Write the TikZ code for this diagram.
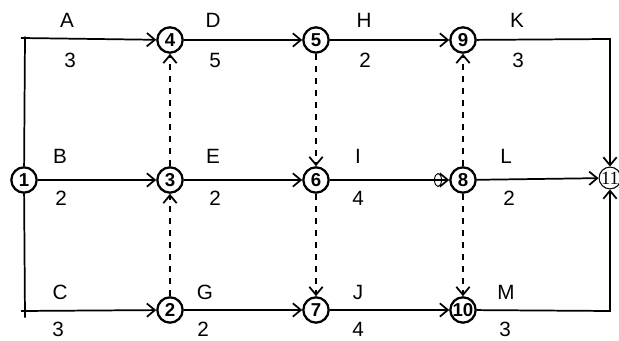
\documentclass[tikz,border=0pt]{standalone}
\usepackage{fontspec}
\setmainfont{Liberation Sans}
\newfontfamily\serifnum{Liberation Serif}
\usetikzlibrary{arrows.meta}
\tikzset{
  event/.style={circle,draw,fill=white,line width=1.7pt,minimum size=19pt,inner sep=0pt,
    font=\bfseries\fontsize{14}{14}\selectfont},
  endevent/.style={circle,draw,fill=white,line width=0.8pt,minimum size=16pt,inner sep=0pt,
    font=\serifnum\fontsize{14}{14}\selectfont},
  work/.style={line width=1.3pt,-{Straight Barb[length=6pt,width=10pt]}},
  dummy/.style={work,dash pattern=on 5pt off 4pt},
  lbl/.style={font=\fontsize{15.5}{15.5}\selectfont,inner sep=0pt}
}

\begin{document}
\begin{tikzpicture}[x=0.75pt,y=-0.75pt]
    \useasboundingbox (0,0) rectangle (619,341);
    % events
    \node[event] (n1) at (24,180) {1};
    \node[event] (n4) at (170,40) {4};
    \node[event] (n5) at (316,40) {5};
    \node[event] (n9) at (463,40) {9};
    \node[event] (n3) at (170,180) {3};
    \node[event] (n6) at (316,180) {6};
    \node[event] (n8) at (463,180) {8};
    \node[event] (n2) at (170,310) {2};
    \node[event] (n7) at (316,310) {7};
    \node[event] (n10) at (463,310) {10};
    \node[endevent] (n11) at (610,178) {11};
    \coordinate (tl) at (25,38);
    \coordinate (bl) at (25,311);
    \coordinate (tr) at (610,39);
    \coordinate (br) at (610,311);
    % real activities
    \draw[line width=1.3pt] (n1) -- ([yshift=1]tl);
    \draw[line width=1.3pt] (n1) -- ([yshift=-5]bl);
    \draw[work] ([xshift=-3]tl) -- (n4);
    \draw[work] (n1) -- (n3);
    \draw[work] ([xshift=-3]bl) -- (n2);
    \draw[work] (n4) -- (n5);
    \draw[work] (n3) -- (n6);
    \draw[work] (n2) -- (n7);
    \draw[work] (n5) -- (n9);
    \draw[work] (n6) -- (n8);
    \draw[work] (n7) -- (n10);
    \draw[work] (n9) -- (tr) -- (n11);
    \draw[work] (n8) -- (n11);
    \draw[work] (n10) -- (br) -- (n11);
    \draw[line width=0.7pt] (438,180) ellipse (3.5 and 6.5);
    % dummy activities
    \draw[dummy] (n3) -- (n4);
    \draw[dummy] (n2) -- (n3);
    \draw[dummy] (n5) -- (n6);
    \draw[dummy] (n6) -- (n7);
    \draw[dummy] (n8) -- (n9);
    \draw[dummy] (n8) -- (n10);
    % labels
    \node[lbl] (la) at (67,20) {A};   \node[lbl] (da) at (70,60) {3};
    \node[lbl] (ld) at (213,20) {D};  \node[lbl] (dd) at (215,60) {5};
    \node[lbl] (lh) at (364,20) {H};  \node[lbl] (dh) at (365,60) {2};
    \node[lbl] (lk) at (517,20) {K};  \node[lbl] (dk) at (518,60) {3};
    \node[lbl] (lb) at (60,156) {B};  \node[lbl] (db) at (61,198) {2};
    \node[lbl] (le) at (213,156) {E}; \node[lbl] (de) at (215,198) {2};
    \node[lbl] (li) at (358,156) {I}; \node[lbl] (di) at (358,198) {4};
    \node[lbl] (ll) at (506,156) {L}; \node[lbl] (dl) at (509,198) {2};
    \node[lbl] (lc) at (60,292) {C};  \node[lbl] (dc) at (58,329) {3};
    \node[lbl] (lg) at (205,292) {G}; \node[lbl] (dg) at (203,329) {2};
    \node[lbl] (lj) at (358,292) {J}; \node[lbl] (dj) at (358,329) {4};
    \node[lbl] (lm) at (506,292) {M}; \node[lbl] (dm) at (505,329) {3};
  \end{tikzpicture}
\end{document}
